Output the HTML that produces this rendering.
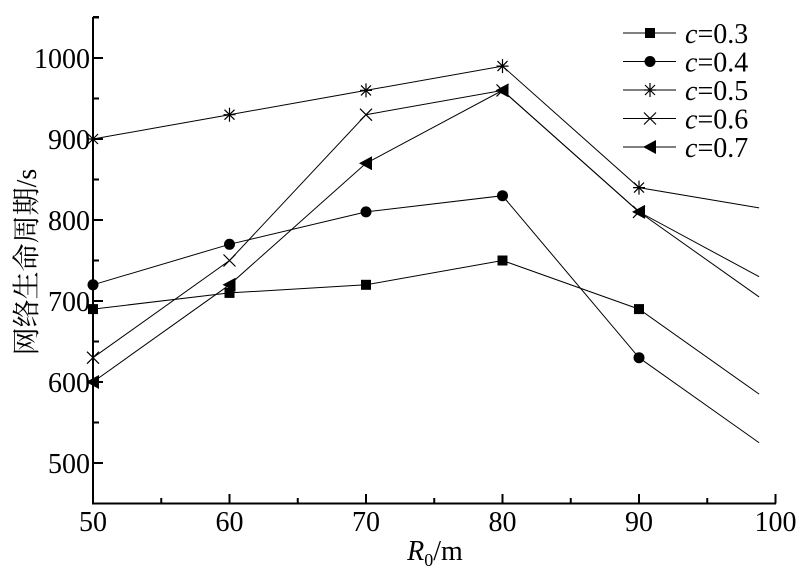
<!DOCTYPE html>
<html><head><meta charset="utf-8"><style>
body{margin:0;background:#fff;width:800px;height:571px;overflow:hidden}
svg text{font-family:"Liberation Serif","Noto Serif CJK SC",serif;fill:#000}
</style></head><body>
<svg id="chart" width="800" height="571" xmlns="http://www.w3.org/2000/svg"></svg>
<script>
const xCats=[50,60,70,80,90,98.8];
const s03=[690,710,720,750,690,585];
const s04=[720,770,810,830,630,525];
const s05=[900,930,960,990,840,815];
const s06=[630,750,930,960,810,730];
const s07=[600,720,870,960,810,705];
const seriesLabels=["0.3","0.4","0.5","0.6","0.7"];
const xTicks=[50,60,70,80,90,100];
const yTicks=[500,600,700,800,900,1000];
const ns="http://www.w3.org/2000/svg";
const svg=document.getElementById('chart');
const X=v=>93+(v-50)*13.65;
const Y=v=>503.5-(v-450)*0.81;
function mk(t,a,p){const e=document.createElementNS(ns,t);for(const k in a)e.setAttribute(k,a[k]);(p||svg).appendChild(e);return e;}
const ax=mk('g',{});


mk('line',{x1:93,y1:17,x2:93,y2:504.5,stroke:'#000','stroke-width':2},ax);
mk('line',{x1:92,y1:503.5,x2:776,y2:503.5,stroke:'#000','stroke-width':2},ax);
mk('line',{x1:93,y1:17,x2:99,y2:17,stroke:'#000','stroke-width':2},ax);
xTicks.forEach((t,i)=>{
  mk('line',{x1:X(t),y1:503.5,x2:X(t),y2:494,stroke:'#000','stroke-width':2},ax);
  if(i<xTicks.length-1) mk('line',{x1:X(t+5),y1:503.5,x2:X(t+5),y2:498,stroke:'#000','stroke-width':2},ax);
  const tx=mk('text',{x:X(t),y:531,'text-anchor':'middle','font-size':28},ax);tx.textContent=t;
  
  
});
yTicks.forEach(t=>{
  mk('line',{x1:93,y1:Y(t),x2:103,y2:Y(t),stroke:'#000','stroke-width':2},ax);
  mk('line',{x1:93,y1:Y(t+50),x2:99,y2:Y(t+50),stroke:'#000','stroke-width':2},ax);
  const tx=mk('text',{x:90,y:Y(t)+10,'text-anchor':'end','font-size':28},ax);tx.textContent=t;
  
  
});
mk('line',{x1:93,y1:Y(450),x2:99,y2:Y(450),stroke:'#000','stroke-width':2},ax);
const xt=mk('text',{x:435,y:560,'text-anchor':'middle','font-size':28});


xt.innerHTML='<tspan font-style="italic">R</tspan><tspan font-size="18" dy="6">0</tspan><tspan dy="-6">/m</tspan>';
const yt=mk('text',{x:0,y:0,'text-anchor':'middle','font-size':28,transform:'translate(36,262) rotate(-90)'});


yt.textContent='网络生命周期/s';
function marker(type,x,y,g){
  if(type===0) mk('rect',{x:x-5,y:y-5,width:10,height:10,fill:'#000'},g);
  else if(type===1) mk('circle',{cx:x,cy:y,r:5.5,fill:'#000'},g);
  else if(type===2){mk('path',{d:`M${x-6} ${y}H${x+6}M${x} ${y-7}V${y+7}M${x-5} ${y-5}L${x+5} ${y+5}M${x-5} ${y+5}L${x+5} ${y-5}`,stroke:'#000','stroke-width':1.2,fill:'none'},g);}
  else if(type===3){mk('path',{d:`M${x-6} ${y-6}L${x+6} ${y+6}M${x-6} ${y+6}L${x+6} ${y-6}`,stroke:'#000','stroke-width':1.2,fill:'none'},g);}
  else mk('path',{d:`M${x-7} ${y}L${x+6} ${y-7}V${y+7}Z`,fill:'#000'},g);
}
const all=[s03,s04,s05,s06,s07];
all.forEach((s,k)=>{
  const g=mk('g',{});
  
  
  mk('polyline',{points:s.map((v,i)=>X(xCats[i])+','+Y(v)).join(' '),fill:'none',stroke:'#000','stroke-width':1},g);
  s.forEach((v,i)=>{ if(i<5) marker(k,X(xCats[i]),Y(v),g); });
  const lg=mk('g',{});
  
  
  const ly=33+k*28.5;
  mk('line',{x1:623,y1:ly,x2:676,y2:ly,stroke:'#000','stroke-width':1},lg);
  marker(k,650,ly,lg);
  const t=mk('text',{x:685,y:ly+10,'font-size':28},lg);
  t.innerHTML='<tspan font-style="italic">c</tspan>='+seriesLabels[k];
});
</script>
</body></html>
